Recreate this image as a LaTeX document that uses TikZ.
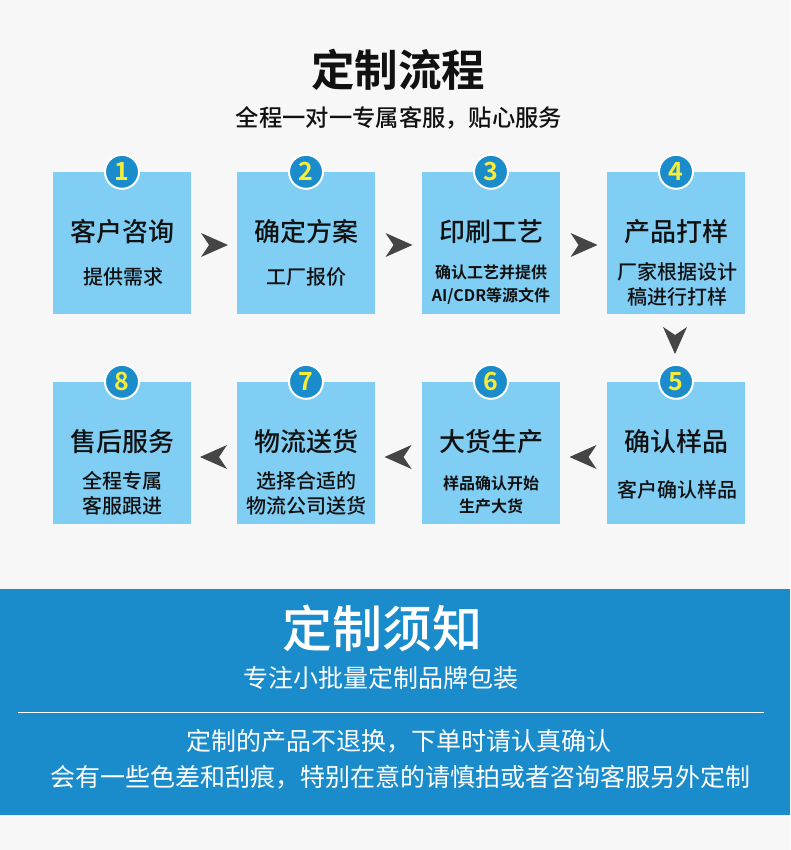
\documentclass[tikz,border=0pt]{standalone}
\usepackage{fontspec}
\setmainfont{Noto Sans CJK SC}[BoldFont={Noto Sans CJK SC Bold}]
\newfontfamily\medf{Noto Sans CJK SC Medium}
\usetikzlibrary{calc}
\definecolor{bg}{HTML}{F7F7F7}
\definecolor{boxc}{HTML}{80CEF4}
\definecolor{bluec}{HTML}{1A8BCB}
\definecolor{numc}{HTML}{F8EC3A}
\definecolor{arrc}{HTML}{454545}
\definecolor{txt}{HTML}{111111}
\tikzset{
  stepbox/.style={fill=boxc, minimum width=138pt, minimum height=142pt, inner sep=0pt},
  numcirc/.style={circle, fill=bluec, draw=white, line width=2pt, minimum size=34pt, inner sep=0pt, text=numc, font=\bfseries\fontsize{25}{25}\selectfont},
  btitle/.style={text=txt, font=\medf\fontsize{26}{28}\selectfont, inner sep=0pt},
  bsub/.style={text=txt, font=\medf\fontsize{20}{25}\selectfont, inner sep=0pt, align=center},
  bsubs/.style={text=txt, font=\bfseries\fontsize{16}{23}\selectfont, inner sep=0pt, align=center},
  arr/.style={fill=arrc}
}
\begin{document}
\begin{tikzpicture}[x=1pt,y=-1pt]
\fill[bg] (0,0) rectangle (790,850);
\useasboundingbox (0,0) rectangle (790,850);
% header
\node[font=\bfseries\fontsize{43.5}{46}\selectfont, text=txt, inner sep=0pt] (title) at (398,70) {定制流程};
\node[font=\medf\fontsize{23.3}{25}\selectfont, text=txt, inner sep=0pt] (subtitle) at (399,118) {全程一对一专属客服，贴心服务};
% row 1
\node[stepbox] (b1) at (122,243) {};
\node[stepbox] (b2) at (306,243) {};
\node[stepbox] (b3) at (491,243) {};
\node[stepbox] (b4) at (676,243) {};
% row 2
\node[stepbox] (b8) at (122,453) {};
\node[stepbox] (b7) at (306,453) {};
\node[stepbox] (b6) at (491,453) {};
\node[stepbox] (b5) at (676,453) {};
% numbers
\foreach \b/\n in {b1/1,b2/2,b3/3,b4/4,b5/5,b6/6,b7/7,b8/8}{
  \node[numcirc] (n\n) at (\b.north) {\n};
}
% texts row 1
\node[btitle] (t1) at (122,232) {客户咨询};
\node[bsub] (s1) at (123,277) {提供需求};
\node[btitle] (t2) at (306,232) {确定方案};
\node[bsub] (s2) at (306,277) {工厂报价};
\node[btitle] (t3) at (491,232) {印刷工艺};
\node[bsubs] (s3) at (491,284.5) {确认工艺并提供\\AI/CDR等源文件};
\node[btitle] (t4) at (676,232) {产品打样};
\node[bsub] (s4) at (677,284.5) {厂家根据设计\\稿进行打样};
% texts row 2
\node[btitle] (t8) at (122,442) {售后服务};
\node[bsub] (s8) at (122,493.5) {全程专属\\客服跟进};
\node[btitle] (t7) at (306,442) {物流送货};
\node[bsub] (s7) at (306,493.5) {选择合适的\\物流公司送货};
\node[btitle] (t6) at (491,442) {大货生产};
\node[bsubs] (s6) at (491,494.5) {样品确认开始\\生产大货};
\node[btitle] (t5) at (676,442) {确认样品};
\node[bsub] (s5) at (677,490) {客户确认样品};
% arrows right
\foreach \a/\b in {b1/b2,b2/b3,b3/b4}{
  \fill[arr] ($(\a.east)!0.5!(\b.west)+(14,2)$) -- ++(-27,-12) -- ++(8,12) -- ++(-8,12) -- cycle;
}
% arrow down
\fill[arr] ($(b4.south)!0.5!(b5.north)+(-1,6)$) -- ++(-12,-27) -- ++(12,8) -- ++(12,-8) -- cycle;
% arrows left
\foreach \a/\b in {b5/b6,b6/b7,b7/b8}{
  \fill[arr] ($(\a.west)!0.5!(\b.east)+(-14,4)$) -- ++(27,-12) -- ++(-8,12) -- ++(8,12) -- cycle;
}
% bottom band
\fill[bluec] (0,589) rectangle (790,815);
\node[font=\medf\fontsize{50}{52}\selectfont, text=white, inner sep=0pt] (ntitle) at (382,628) {定制须知};
\node[font=\fontsize{25}{27}\selectfont, text=white, inner sep=0pt] (nsub) at (381,678) {专注小批量定制品牌包装};
\coordinate (la) at (18,712);
\coordinate (lb) at (764,712);
\draw[white, line width=1pt] (la) -- (lb);
\node[font=\fontsize{25}{27}\selectfont, text=white, inner sep=0pt] (l1) at (399,741) {定制的产品不退换，下单时请认真确认};
\node[font=\fontsize{25}{27}\selectfont, text=white, inner sep=0pt] (l2) at (400,777) {会有一些色差和刮痕，特别在意的请慎拍或者咨询客服另外定制};
\end{tikzpicture}
\end{document}
